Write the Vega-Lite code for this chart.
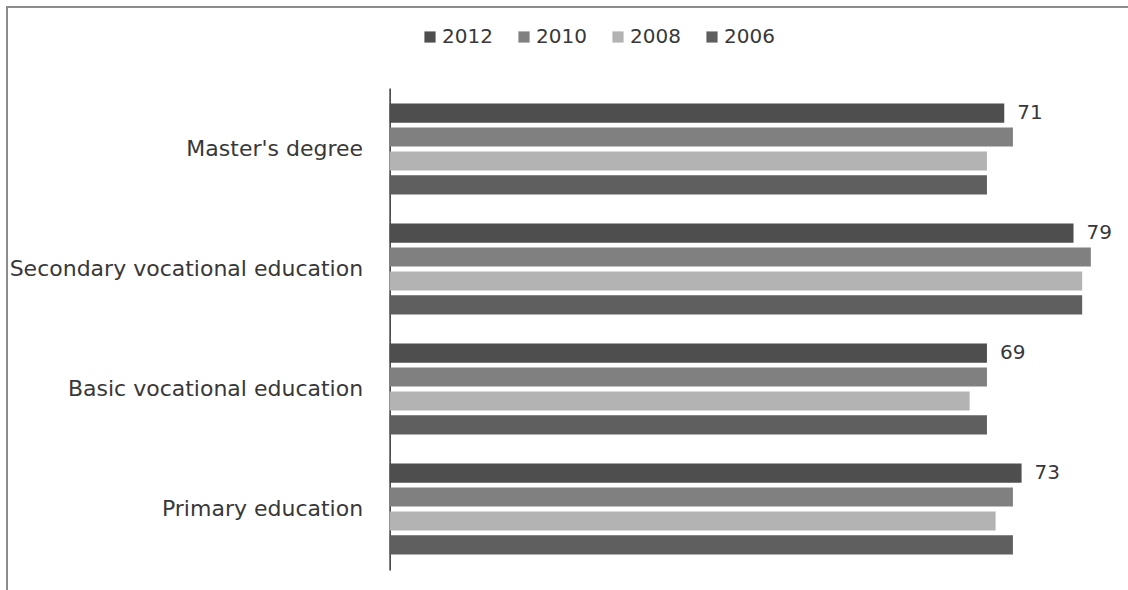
{
  "$schema": "https://vega.github.io/schema/vega-lite/v6.json",
  "width": 1124,
  "height": 586,
  "autosize": {"type": "none"},
  "padding": {"left": 7, "top": 7, "right": -3, "bottom": -3},
  "background": "white",
  "config": {
    "view": {"stroke": "#8c8c8c", "strokeWidth": 2},
    "font": "DejaVu Sans"
  },
  "data": {
    "values": [
      {"level": "Master's degree", "year": "2012", "share": 71},
      {"level": "Master's degree", "year": "2010", "share": 72},
      {"level": "Master's degree", "year": "2008", "share": 69},
      {"level": "Master's degree", "year": "2006", "share": 69},
      {"level": "Secondary vocational education", "year": "2012", "share": 79},
      {"level": "Secondary vocational education", "year": "2010", "share": 81},
      {"level": "Secondary vocational education", "year": "2008", "share": 80},
      {"level": "Secondary vocational education", "year": "2006", "share": 80},
      {"level": "Basic vocational education", "year": "2012", "share": 69},
      {"level": "Basic vocational education", "year": "2010", "share": 69},
      {"level": "Basic vocational education", "year": "2008", "share": 67},
      {"level": "Basic vocational education", "year": "2006", "share": 69},
      {"level": "Primary education", "year": "2012", "share": 73},
      {"level": "Primary education", "year": "2010", "share": 72},
      {"level": "Primary education", "year": "2008", "share": 70},
      {"level": "Primary education", "year": "2006", "share": 72}
    ]
  },
  "encoding": {
    "y": {
      "field": "level",
      "type": "nominal",
      "sort": ["Master's degree", "Secondary vocational education", "Basic vocational education", "Primary education"],
      "scale": {"range": [81, 563], "paddingInner": 0.2417, "paddingOuter": 0.129},
      "axis": {
        "title": null,
        "offset": -382.6,
        "domainColor": "#000000",
        "domainWidth": 1.2,
        "ticks": false,
        "labelPadding": 27,
        "labelFontSize": 22,
        "labelColor": "#383838",
        "labelLimit": 0
      }
    },
    "yOffset": {
      "field": "year",
      "type": "nominal",
      "sort": ["2012", "2010", "2008", "2006"],
      "scale": {"paddingInner": 0.2, "paddingOuter": 0}
    }
  },
  "layer": [
    {
      "mark": {"type": "bar"},
      "encoding": {
        "x": {
          "field": "share",
          "type": "quantitative",
          "scale": {"domain": [-44.2, 85.64], "nice": false, "zero": false},
          "axis": null
        },
        "x2": {"datum": 0},
        "color": {
          "field": "year",
          "type": "nominal",
          "sort": ["2012", "2010", "2008", "2006"],
          "scale": {"domain": ["2012", "2010", "2008", "2006"], "range": ["#4e4e4e", "#808080", "#b3b3b3", "#5f5f5f"]},
          "legend": {
            "title": null,
            "orient": "none",
            "direction": "horizontal",
            "legendX": 413,
            "legendY": 20,
            "symbolType": "square",
            "symbolSize": 125,
            "symbolStrokeWidth": 0,
            "labelFontSize": 20,
            "labelColor": "#383838",
            "labelOffset": 2,
            "columnPadding": 21,
            "padding": 0
          }
        }
      }
    },
    {
      "transform": [{"filter": "datum.year === '2012'"}],
      "mark": {"type": "text", "align": "left", "baseline": "middle", "dx": 13, "fontSize": 20, "color": "#383838"},
      "encoding": {
        "x": {"field": "share", "type": "quantitative"},
        "text": {"field": "share", "type": "quantitative"}
      }
    }
  ]
}
